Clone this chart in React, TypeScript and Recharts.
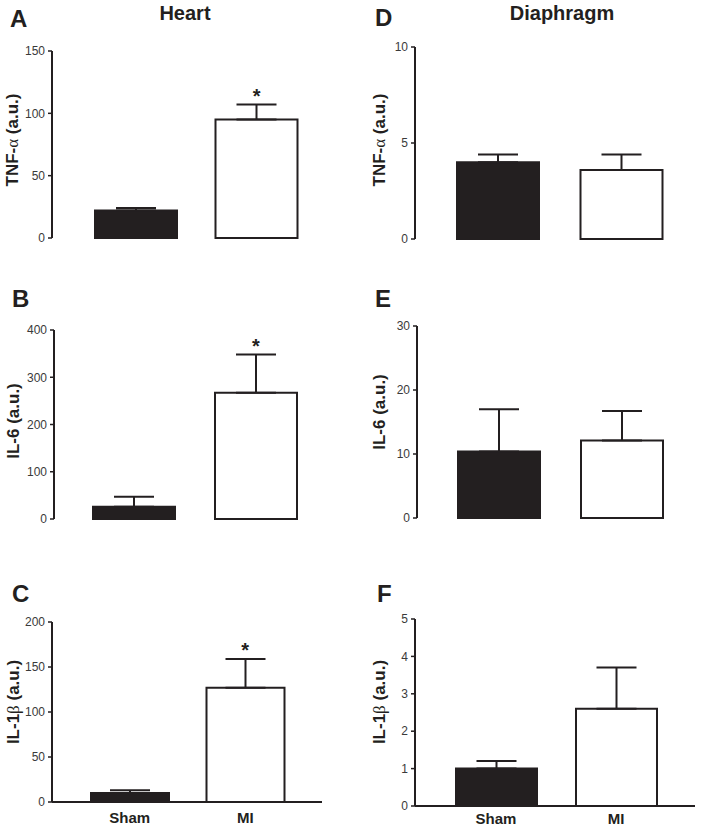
import { Bar, BarChart, Cell, ErrorBar, Label, ReferenceDot, XAxis, YAxis } from "recharts";

const groups = ["Sham", "MI"];
const barFills = ["#231f20", "#ffffff"];

// Heart
const heartTnfMean = [22, 95];
const heartTnfSem = [2, 12];
const heartIl6Mean = [26, 267];
const heartIl6Sem = [21, 81];
const heartIl1Mean = [10, 127];
const heartIl1Sem = [3, 32];
const heartSignificant = [false, true];

// Diaphragm
const diaTnfMean = [4.0, 3.6];
const diaTnfSem = [0.4, 0.8];
const diaIl6Mean = [10.4, 12.1];
const diaIl6Sem = [6.6, 4.6];
const diaIl1Mean = [1.0, 2.6];
const diaIl1Sem = [0.2, 1.1];
const diaSignificant = [false, false];

const heartTnfTicks = [0, 50, 100, 150];
const heartIl6Ticks = [0, 100, 200, 300, 400];
const heartIl1Ticks = [0, 50, 100, 150, 200];
const diaTnfTicks = [0, 5, 10];
const diaIl6Ticks = [0, 10, 20, 30];
const diaIl1Ticks = [0, 1, 2, 3, 4, 5];

const ink = "#231f20";

type Panel = {
  letter: string;
  mean: number[];
  sem: number[];
  sig: boolean[];
  ticks: number[];
  title: [string, string, string];
  showGroups: boolean;
  left: number;
  top: number;
  width: number;
  height: number;
  margin: { top: number; right: number; bottom: number; left: number };
  yWidth: number;
  xHeight: number;
  xMargin: number;
  pad: { left: number; right: number };
  barSize: number;
  labelX: number;
  labelY: number;
  letterX: number;
  letterY: number;
};

const panels: Panel[] = [
  {
    letter: "A", mean: heartTnfMean, sem: heartTnfSem, sig: heartSignificant, ticks: heartTnfTicks,
    title: ["TNF-", "α", " (a.u.)"], showGroups: false,
    left: 0, top: 0, width: 352, height: 260,
    margin: { top: 51, right: 15, bottom: 22, left: 2 }, yWidth: 50, xHeight: 0, xMargin: 0,
    pad: { left: 24, right: 20 }, barSize: 82, labelX: 18, labelY: 140, letterX: 10, letterY: 27,
  },
  {
    letter: "B", mean: heartIl6Mean, sem: heartIl6Sem, sig: heartSignificant, ticks: heartIl6Ticks,
    title: ["IL-6 (a.u.)", "", ""], showGroups: false,
    left: 0, top: 260, width: 352, height: 280,
    margin: { top: 70, right: 15, bottom: 21, left: 4 }, yWidth: 50, xHeight: 0, xMargin: 0,
    pad: { left: 19, right: 20 }, barSize: 82, labelX: 19, labelY: 161, letterX: 12, letterY: 307,
  },
  {
    letter: "C", mean: heartIl1Mean, sem: heartIl1Sem, sig: heartSignificant, ticks: heartIl1Ticks,
    title: ["IL-1", "β", " (a.u.)"], showGroups: true,
    left: 0, top: 540, width: 352, height: 289,
    margin: { top: 82, right: 30, bottom: 1, left: 2 }, yWidth: 50, xHeight: 26, xMargin: 10,
    pad: { left: 20, right: 19 }, barSize: 78, labelX: 19, labelY: 162, letterX: 12, letterY: 602,
  },
  {
    letter: "D", mean: diaTnfMean, sem: diaTnfSem, sig: diaSignificant, ticks: diaTnfTicks,
    title: ["TNF-", "α", " (a.u.)"], showGroups: false,
    left: 352, top: 0, width: 352, height: 260,
    margin: { top: 47, right: 2, bottom: 21, left: 3 }, yWidth: 60, xHeight: 0, xMargin: 0,
    pad: { left: 21, right: 19 }, barSize: 82, labelX: 33, labelY: 140, letterX: 375, letterY: 26,
  },
  {
    letter: "E", mean: diaIl6Mean, sem: diaIl6Sem, sig: diaSignificant, ticks: diaIl6Ticks,
    title: ["IL-6 (a.u.)", "", ""], showGroups: false,
    left: 352, top: 260, width: 352, height: 280,
    margin: { top: 66, right: 0, bottom: 22, left: 5 }, yWidth: 60, xHeight: 0, xMargin: 0,
    pad: { left: 20, right: 21 }, barSize: 82, labelX: 33, labelY: 152, letterX: 375, letterY: 307,
  },
  {
    letter: "F", mean: diaIl1Mean, sem: diaIl1Sem, sig: diaSignificant, ticks: diaIl1Ticks,
    title: ["IL-1", "β", " (a.u.)"], showGroups: true,
    left: 352, top: 540, width: 352, height: 289,
    margin: { top: 79, right: 9, bottom: 0, left: 3 }, yWidth: 60, xHeight: 23, xMargin: 7,
    pad: { left: 21, right: 19 }, barSize: 81, labelX: 33, labelY: 162, letterX: 377, letterY: 602,
  },
];

function AxisTitle({ x, y, parts }: { x: number; y: number; parts: [string, string, string] }) {
  return (
    <text
      x={x}
      y={y}
      transform={`rotate(-90, ${x}, ${y})`}
      textAnchor="middle"
      fontSize={17}
      fontWeight="bold"
      fill={ink}
    >
      {parts[0]}
      {parts[1] && (
        <tspan fontFamily="'Liberation Serif', serif" fontWeight="normal">
          {parts[1]}
        </tspan>
      )}
      {parts[2]}
    </text>
  );
}

function PanelChart({ p }: { p: Panel }) {
  const data = groups.map((g, i) => ({ group: g, value: p.mean[i], err: [0, p.sem[i]] }));
  const top = p.ticks[p.ticks.length - 1];
  return (
    <div style={{ position: "absolute", left: p.left, top: p.top }}>
      <BarChart width={p.width} height={p.height} data={data} margin={p.margin}>
        <XAxis
          dataKey="group"
          height={p.xHeight}
          padding={p.pad}
          axisLine={{ stroke: ink, strokeWidth: 2 }}
          tickLine={false}
          tickSize={0}
          tickMargin={p.xMargin}
          tick={p.showGroups ? { fill: ink, fontSize: 15, fontWeight: "bold" } : false}
          interval={0}
        />
        <YAxis
          width={p.yWidth}
          domain={[0, top]}
          ticks={p.ticks}
          interval={0}
          axisLine={{ stroke: ink, strokeWidth: 2 }}
          tickLine={{ stroke: ink, strokeWidth: 1.5 }}
          tickSize={4}
          tickMargin={3}
          tick={{ fill: "#3a3a3a", fontSize: 12 }}
        >
          <Label content={() => <AxisTitle x={p.labelX} y={p.labelY} parts={p.title} />} />
        </YAxis>
        <Bar dataKey="value" barSize={p.barSize} stroke={ink} strokeWidth={2} isAnimationActive={false}>
          {data.map((d, i) => (
            <Cell key={d.group} fill={barFills[i]} />
          ))}
          <ErrorBar dataKey="err" direction="y" width={20} stroke={ink} strokeWidth={2} isAnimationActive={false} />
        </Bar>
        {groups.map((g, i) =>
          p.sig[i] ? (
            <ReferenceDot
              key={g}
              x={g}
              y={p.mean[i] + p.sem[i]}
              r={0}
              fill="none"
              stroke="none"
              label={{ value: "*", position: "top", offset: 2, fontSize: 20, fontWeight: "bold", fill: ink }}
            />
          ) : null
        )}
      </BarChart>
    </div>
  );
}

export default function App() {
  return (
    <div
      style={{
        position: "absolute",
        left: 0,
        top: 0,
        width: 704,
        height: 829,
        background: "#ffffff",
        fontFamily: "'Liberation Sans', Arial, sans-serif",
      }}
    >
      {panels.map((p) => (
        <PanelChart key={p.letter} p={p} />
      ))}
      <svg
        width={704}
        height={829}
        style={{ position: "absolute", left: 0, top: 0, pointerEvents: "none" }}
      >
        {panels.map((p) => (
          <text key={p.letter} x={p.letterX} y={p.letterY} fontSize={24} fontWeight="bold" fill={ink}>
            {p.letter}
          </text>
        ))}
        <text x={185} y={20} textAnchor="middle" fontSize={20} fontWeight="bold" fill={ink}>
          Heart
        </text>
        <text x={562} y={20} textAnchor="middle" fontSize={20} fontWeight="bold" fill={ink}>
          Diaphragm
        </text>
      </svg>
    </div>
  );
}
